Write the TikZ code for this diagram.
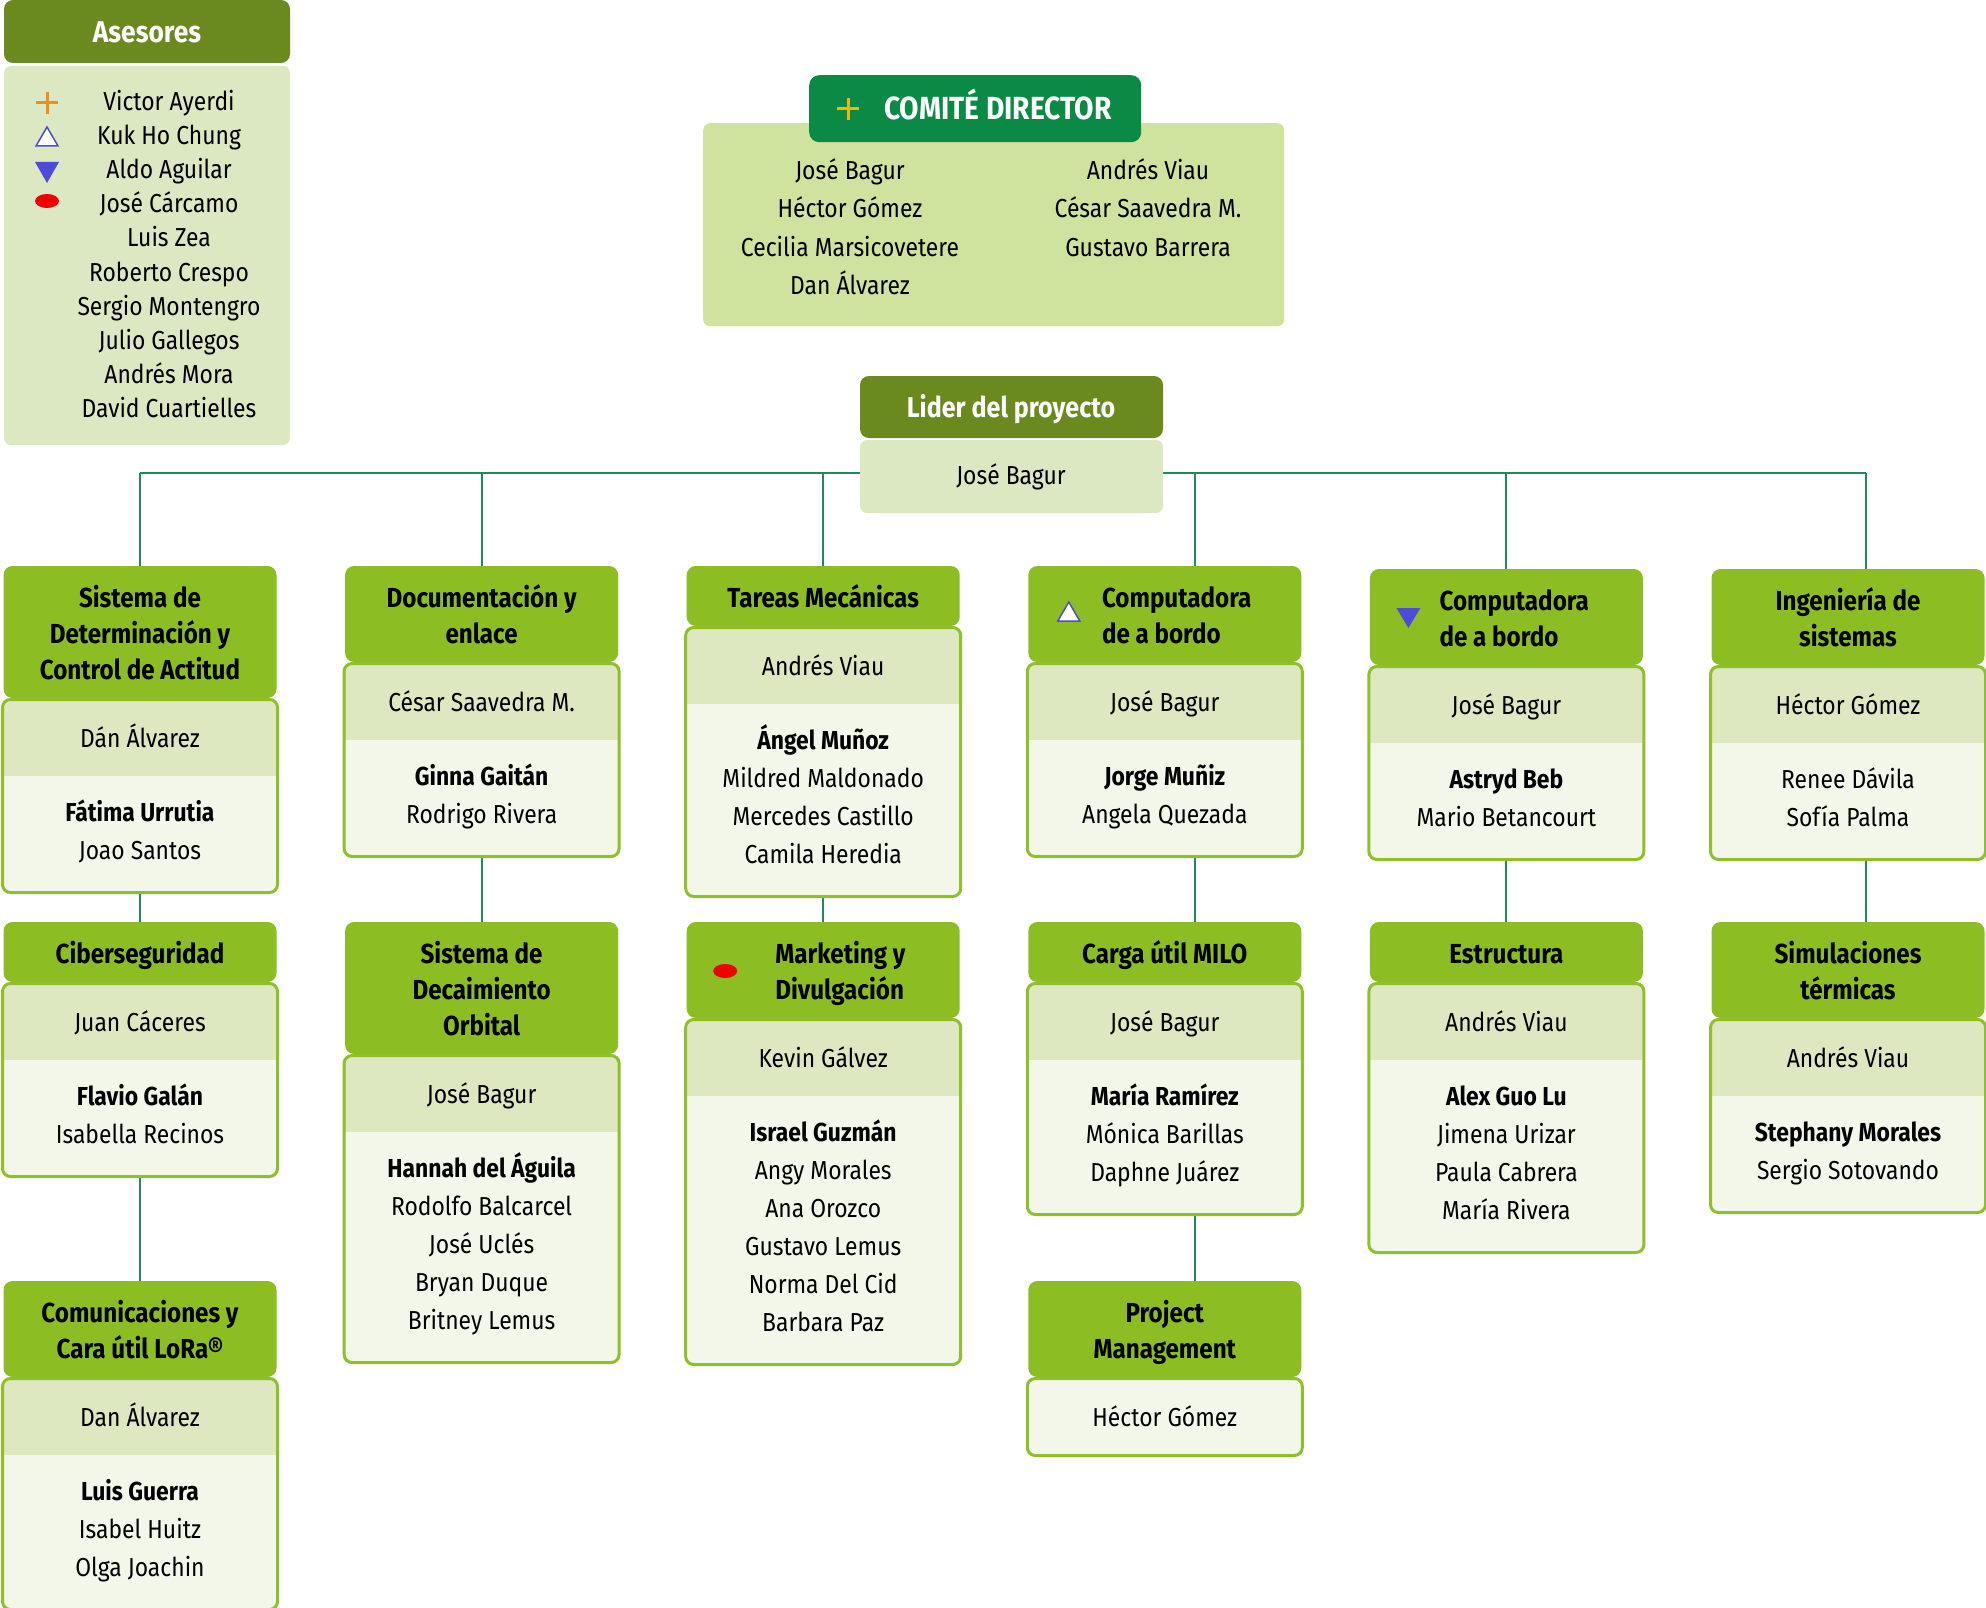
\documentclass[tikz,border=0pt]{standalone}
\usepackage{fontspec}
\setmainfont{Fira Sans}[FakeStretch=0.88]
\usetikzlibrary{calc}
\pgfdeclarelayer{bg}
\pgfsetlayers{bg,main}
\definecolor{cOlive}{HTML}{6A8A1F}
\definecolor{cCom}{HTML}{0B8A46}
\definecolor{cComFill}{HTML}{CFE29E}
\definecolor{cPale}{HTML}{DCE8C1}
\definecolor{cHead}{HTML}{8CBD23}
\definecolor{cBorder}{HTML}{90BF2C}
\definecolor{cLead}{HTML}{DDE8C0}
\definecolor{cMem}{HTML}{F3F7EA}
\definecolor{cConn}{HTML}{1F8A5C}
\definecolor{cOrange}{HTML}{F28C1E}
\definecolor{cYellow}{HTML}{F2B705}
\definecolor{cBlue}{HTML}{4C4CD8}
\definecolor{cRed}{HTML}{F00000}

\newcommand\orgunit[9]{%
  \pgfmathsetmacro\uHH{24+36*#4}%
  \pgfmathsetmacro\uBH{#7==0 ? 77 : 117+38*#7}%
  \node[hdr, minimum height=\uHH pt, anchor=north] (#1) at (#2,#3) {};
  \foreach \hl [count=\kk] in {#5} {
    \node[htxt, anchor=base, #9] (#1t\kk) at ($(#1.north)+(0,{41+36*(\kk-1)})$) {\hl};
  }
  \node[bodybg, minimum height=\uBH pt, anchor=north] (#1b) at ($(#1.south)+(0,1.5)$) {};
  \ifnum#7>0
  \begin{scope}
    \clip[rounded corners=8pt] (#1b.north west) rectangle (#1b.south east);
    \fill[cLead] (#1b.north west) rectangle ($(#1b.north east)+(0,76)$);
  \end{scope}
  \fi
  \draw[bordr] (#1b.north west) rectangle (#1b.south east);
  \node[txt, anchor=base] (#1l) at ($(#1b.north)+(0,48)$) {#6};
  \ifnum#7>0
  \foreach \mbr [count=\kk] in {#8} {
    \node[txt, anchor=base] (#1m\kk) at ($(#1b.north)+(0,{122+38*(\kk-1)})$) {\mbr};
  }
  \fi
}

\begin{document}
\begin{tikzpicture}[x=1pt,y=-1pt,
  hdr/.style={fill=cHead, rounded corners=9pt, minimum width=273pt, inner sep=0pt, outer sep=0pt},
  bodybg/.style={fill=cMem, rounded corners=8pt, minimum width=275pt, inner sep=0pt, outer sep=0pt},
  bordr/.style={draw=cBorder, line width=3pt, rounded corners=8pt},
  txt/.style={font=\fontsize{26}{38}\selectfont, inner sep=0pt, text=black},
  htxt/.style={font=\fontsize{27.5}{36}\selectfont\bfseries, inner sep=0pt, text=black},
  wtxt/.style={font=\fontsize{28.5}{30}\selectfont\bfseries, inner sep=0pt, text=white},
  conn/.style={draw=cConn, line width=2pt},
  darkhdr/.style={fill=cOlive, rounded corners=9pt, inner sep=0pt, outer sep=0pt},
  palebox/.style={fill=cPale, rounded corners=7pt, inner sep=0pt, outer sep=0pt},
]
\useasboundingbox (0,0) rectangle (1986,1608);
\begin{pgfonlayer}{bg}
\fill[white] (0,0) rectangle (1986,1608);
\end{pgfonlayer}

% ---------- Asesores ----------
\node[darkhdr, minimum width=286pt, minimum height=63pt, anchor=north west] (ase) at (4,0) {};
\node[wtxt, font=\fontsize{30}{32}\selectfont\bfseries, anchor=base] (aset) at (147,43) {Asesores};
\node[palebox, minimum width=286pt, minimum height=379pt, anchor=north west] (aseb) at (4,66) {};
\foreach \nm [count=\kk] in {Victor Ayerdi, Kuk Ho Chung, Aldo Aguilar, José Cárcamo, Luis Zea, Roberto Crespo, Sergio Montengro, Julio Gallegos, Andrés Mora, David Cuartielles} {
  \node[txt, anchor=base] (asen\kk) at (169,{111+34*(\kk-1)}) {\nm};
}
\draw[cOrange, line width=3pt] (36,103) -- (58,103) (47,92) -- (47,114);
\draw[cBlue, fill=white, line width=1.5pt] (36,146) -- (58,146) -- (47,127) -- cycle;
\fill[cBlue] (35,162) -- (59,162) -- (47,183) -- cycle;
\fill[cRed] (47,201) ellipse [x radius=12, y radius=7];

% ---------- Comite director ----------
\node[fill=cComFill, rounded corners=7pt, minimum width=581pt, minimum height=203pt, anchor=north west, inner sep=0pt] (comb) at (703,123) {};
\node[fill=cCom, rounded corners=10pt, minimum width=332pt, minimum height=67pt, anchor=north west, inner sep=0pt] (com) at (809,75) {};
\node[wtxt, font=\fontsize{32}{34}\selectfont\bfseries, anchor=base west] (comt) at (884,120) {COMITÉ DIRECTOR};
\draw[cYellow, line width=3pt] (837,109) -- (859,109) (848,98) -- (848,120);
\foreach \nm [count=\kk] in {José Bagur, Héctor Gómez, Cecilia Marsicovetere, Dan Álvarez} {
  \node[txt, anchor=base] (coml\kk) at (850,{180+38*(\kk-1)}) {\nm};
}
\foreach \nm [count=\kk] in {Andrés Viau, César Saavedra M., Gustavo Barrera} {
  \node[txt, anchor=base] (comr\kk) at (1148,{180+38*(\kk-1)}) {\nm};
}

% ---------- Lider ----------
\node[darkhdr, minimum width=303pt, minimum height=62pt, anchor=north west] (lid) at (860,376) {};
\node[wtxt, anchor=base] (lidt) at (1011,417) {Lider del proyecto};
\node[palebox, minimum width=303pt, minimum height=73pt, anchor=north west] (lidb) at (860,440) {};
\node[txt, anchor=base] (lidn) at (1011,484) {José Bagur};

% ---------- Units ----------
\orgunit{u1}{140}{566}{3}{Sistema de, Determinación y, Control de Actitud}{Dán Álvarez}{2}{{\bfseries Fátima Urrutia}, Joao Santos}{}
\orgunit{u2}{481.6}{566}{2}{Documentación y, enlace}{César Saavedra M.}{2}{{\bfseries Ginna Gaitán}, Rodrigo Rivera}{}
\orgunit{u3}{823.2}{566}{1}{Tareas Mecánicas}{Andrés Viau}{4}{{\bfseries Ángel Muñoz}, Mildred Maldonado, Mercedes Castillo, Camila Heredia}{}
\orgunit{u4}{1164.8}{566}{2}{Computadora, de a bordo}{José Bagur}{2}{{\bfseries Jorge Muñiz}, Angela Quezada}{anchor=base west, xshift=-63pt}
\orgunit{u5}{1506.4}{569}{2}{Computadora, de a bordo}{José Bagur}{2}{{\bfseries Astryd Beb}, Mario Betancourt}{anchor=base west, xshift=-67pt}
\orgunit{u6}{1848}{569}{2}{Ingeniería de, sistemas}{Héctor Gómez}{2}{Renee Dávila, Sofía Palma}{}

\orgunit{v1}{140}{922}{1}{Ciberseguridad}{Juan Cáceres}{2}{{\bfseries Flavio Galán}, Isabella Recinos}{}
\orgunit{v2}{481.6}{922}{3}{Sistema de, Decaimiento, Orbital}{José Bagur}{5}{{\bfseries Hannah del Águila}, Rodolfo Balcarcel, José Uclés, Bryan Duque, Britney Lemus}{}
\orgunit{v3}{823.2}{922}{2}{Marketing y, Divulgación}{Kevin Gálvez}{6}{{\bfseries Israel Guzmán}, Angy Morales, Ana Orozco, Gustavo Lemus, Norma Del Cid, Barbara Paz}{anchor=base west, xshift=-48pt}
\orgunit{v4}{1164.8}{922}{1}{Carga útil MILO}{José Bagur}{3}{{\bfseries María Ramírez}, Mónica Barillas, Daphne Juárez}{}
\orgunit{v5}{1506.4}{922}{1}{Estructura}{Andrés Viau}{4}{{\bfseries Alex Guo Lu}, Jimena Urizar, Paula Cabrera, María Rivera}{}
\orgunit{v6}{1848}{922}{2}{Simulaciones, térmicas}{Andrés Viau}{2}{{\bfseries Stephany Morales}, Sergio Sotovando}{}

\orgunit{w1}{140}{1281}{2}{Comunicaciones y, Cara útil LoRa®}{Dan Álvarez}{3}{{\bfseries Luis Guerra}, Isabel Huitz, Olga Joachin}{}
\orgunit{w4}{1164.8}{1281}{2}{Project, Management}{Héctor Gómez}{0}{}{}

% symbols in unit headers
\draw[cBlue, fill=white, line width=1.5pt] ($(u4.north)+(-96,47)$) ++(-11,8) -- ++(22,0) -- ++(-11,-19) -- cycle;
\fill[cBlue] ($(u5.north)+(-98,48)$) ++(-12,-9) -- ++(24,0) -- ++(-12,20) -- cycle;
\fill[cRed] ($(v3.north)+(-98,49)$) ellipse [x radius=12, y radius=7];

% ---------- Connectors ----------
\begin{pgfonlayer}{bg}
\coordinate (bus) at (0,473);
\coordinate (u4c) at ($(u4.north)+(30,0)$);
\coordinate (u6c) at ($(u6.north)+(18,0)$);
\coordinate (u4d) at ($(u4b.south)+(30,0)$);
\coordinate (u6d) at ($(u6b.south)+(18,0)$);
\coordinate (v4d) at ($(v4b.south)+(30,0)$);
\draw[conn] (u1.north |- bus) -- (u6c |- bus);
\draw[conn] (u1.north) -- (u1.north |- bus);
\draw[conn] (u2.north) -- (u2.north |- bus);
\draw[conn] (u3.north) -- (u3.north |- bus);
\draw[conn] (u4c) -- (u4c |- bus);
\draw[conn] (u5.north) -- (u5.north |- bus);
\draw[conn] (u6c) -- (u6c |- bus);
\draw[conn] (u1b.south) -- (v1.north);
\draw[conn] (u2b.south) -- (v2.north);
\draw[conn] (u3b.south) -- (v3.north);
\draw[conn] (u4d) -- (u4d |- v4.north);
\draw[conn] (u5b.south) -- (v5.north);
\draw[conn] (u6d) -- (u6d |- v6.north);
\draw[conn] (v1b.south) -- (w1.north);
\draw[conn] (v4d) -- (v4d |- w4.north);
\end{pgfonlayer}
\end{tikzpicture}
\end{document}
